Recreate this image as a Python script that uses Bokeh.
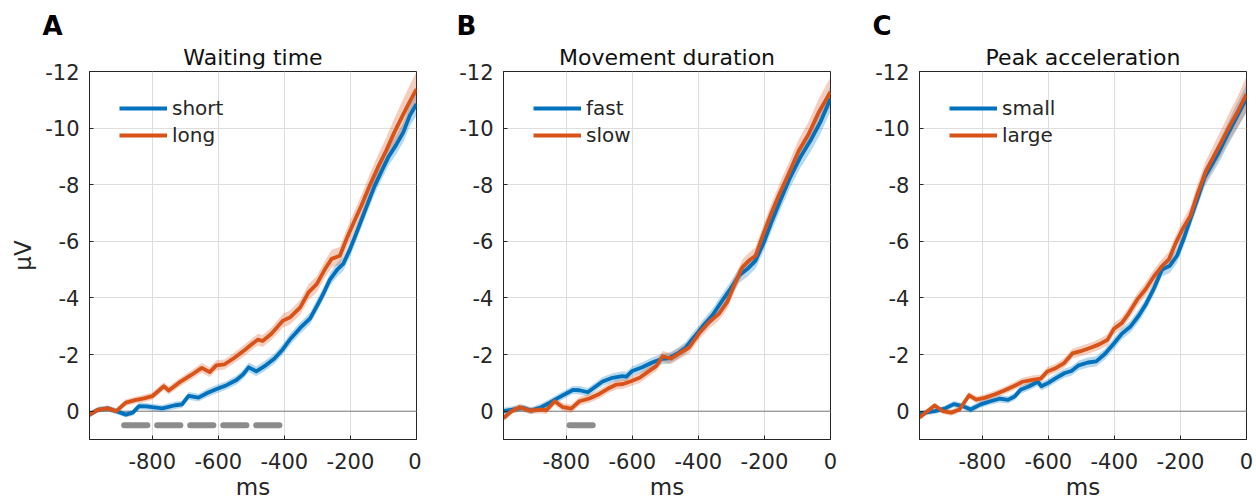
from bokeh.plotting import figure
from bokeh.layouts import row
from bokeh.models import Range1d, FixedTicker, Span, Title
from bokeh.embed import file_html
from bokeh.resources import INLINE

# ---------------- data ----------------
x_ticks = [-800, -600, -400, -200, 0]
x_tick_labels = ["-800", "-600", "-400", "-200", "0"]
y_ticks = [-12, -10, -8, -6, -4, -2, 0]
y_tick_labels = ["-12", "-10", "-8", "-6", "-4", "-2", "0"]

# Panel A: Waiting time
tA_short = [-990, -965, -935, -909, -880, -859, -840, -818, -800, -770,
            -730, -710, -690, -660, -632, -605, -575, -545, -525, -508,
            -485, -460, -430, -405, -382, -352, -322, -300, -280, -262,
            -240, -222, -202, -177, -152, -127, -105, -84, -62, -40,
            -20, 0]
vA_short = [0.12, -0.05, -0.10, 0.0, 0.12, 0.05, -0.18, -0.17, -0.14, -0.10,
            -0.21, -0.24, -0.54, -0.48, -0.65, -0.78, -0.92, -1.10, -1.30, -1.55,
            -1.41, -1.59, -1.86, -2.18, -2.55, -2.94, -3.28, -3.75, -4.20, -4.65,
            -5.00, -5.20, -5.70, -6.44, -7.20, -7.95, -8.50, -9.00, -9.40, -9.85,
            -10.45, -10.85]
sA_short = [0.10, 0.10, 0.10, 0.10, 0.10, 0.10, 0.12, 0.12, 0.12, 0.12,
            0.13, 0.13, 0.14, 0.14, 0.15, 0.15, 0.15, 0.16, 0.16, 0.17,
            0.17, 0.18, 0.18, 0.19, 0.20, 0.20, 0.21, 0.22, 0.22, 0.23,
            0.24, 0.25, 0.26, 0.27, 0.28, 0.29, 0.30, 0.31, 0.33, 0.35,
            0.38, 0.40]
tA_long = [-990, -965, -935, -909, -880, -852, -825, -800, -765, -750,
           -720, -682, -650, -626, -606, -582, -552, -520, -495, -480,
           -466, -440, -404, -382, -352, -327, -302, -277, -257, -232,
           -212, -192, -167, -142, -117, -92, -67, -42, -22, 0]
vA_long = [0.12, -0.05, -0.10, 0.0, -0.30, -0.39, -0.45, -0.53, -0.88, -0.73,
           -1.00, -1.28, -1.53, -1.38, -1.62, -1.65, -1.88, -2.16, -2.40, -2.53,
           -2.48, -2.73, -3.20, -3.32, -3.67, -4.20, -4.49, -5.02, -5.38, -5.49,
           -6.08, -6.61, -7.26, -7.96, -8.61, -9.20, -9.85, -10.44, -10.90, -11.38]
sA_long = [0.10, 0.10, 0.10, 0.10, 0.12, 0.12, 0.13, 0.13, 0.14, 0.14,
           0.15, 0.16, 0.17, 0.17, 0.18, 0.18, 0.19, 0.20, 0.20, 0.21,
           0.21, 0.22, 0.24, 0.25, 0.26, 0.28, 0.29, 0.30, 0.31, 0.32,
           0.34, 0.36, 0.38, 0.40, 0.43, 0.46, 0.50, 0.54, 0.58, 0.62]
sigA_start = [-885, -785, -685, -585, -485]
sigA_end = [-815, -715, -615, -515, -415]

# Panel B: Movement duration
tB_fast = [-990, -962, -932, -906, -876, -850, -815, -780, -760, -735,
           -710, -690, -660, -630, -618, -600, -570, -540, -510, -490,
           -460, -438, -418, -400, -388, -358, -328, -303, -277, -252,
           -227, -202, -177, -152, -122, -92, -61, -31, 0]
vB_fast = [0.0, -0.06, -0.12, -0.02, -0.14, -0.30, -0.53, -0.75, -0.74, -0.67,
           -0.88, -1.05, -1.18, -1.24, -1.22, -1.42, -1.55, -1.72, -1.85, -1.87,
           -2.06, -2.25, -2.55, -2.80, -2.98, -3.38, -3.90, -4.32, -4.79, -5.02,
           -5.32, -5.96, -6.73, -7.44, -8.26, -8.96, -9.55, -10.20, -11.05]
sB_fast = [0.12, 0.12, 0.12, 0.12, 0.13, 0.13, 0.14, 0.14, 0.15, 0.15,
           0.15, 0.16, 0.16, 0.17, 0.17, 0.17, 0.18, 0.18, 0.19, 0.19,
           0.20, 0.20, 0.21, 0.21, 0.22, 0.23, 0.24, 0.25, 0.26, 0.27,
           0.28, 0.30, 0.32, 0.34, 0.36, 0.38, 0.40, 0.42, 0.45]
tB_slow = [-990, -966, -941, -911, -876, -861, -835, -810, -785, -760,
           -730, -700, -673, -648, -628, -604, -578, -553, -528, -508,
           -483, -458, -428, -398, -368, -338, -313, -292, -267, -247,
           -227, -207, -182, -157, -127, -96, -66, -36, 0]
vB_slow = [0.24, 0.0, -0.14, -0.02, -0.06, -0.03, -0.35, -0.14, -0.09, -0.35,
           -0.45, -0.61, -0.80, -0.94, -0.96, -1.06, -1.18, -1.39, -1.59, -1.94,
           -1.86, -2.04, -2.25, -2.75, -3.14, -3.44, -3.85, -4.44, -5.08, -5.32,
           -5.49, -6.14, -6.91, -7.61, -8.38, -9.20, -9.79, -10.55, -11.28]
sB_slow = [0.12, 0.12, 0.12, 0.12, 0.13, 0.13, 0.14, 0.14, 0.15, 0.15,
           0.15, 0.16, 0.16, 0.17, 0.17, 0.17, 0.18, 0.18, 0.19, 0.19,
           0.20, 0.20, 0.21, 0.22, 0.23, 0.24, 0.25, 0.26, 0.27, 0.28,
           0.30, 0.32, 0.34, 0.36, 0.38, 0.41, 0.44, 0.48, 0.52]
sigB_start = [-790]
sigB_end = [-720]

# Panel C: Peak acceleration
tC_small = [-990, -968, -944, -914, -886, -860, -835, -805, -775, -748,
            -722, -702, -684, -658, -632, -621, -600, -576, -550, -530,
            -508, -480, -455, -429, -402, -377, -352, -326, -306, -281,
            -256, -232, -210, -190, -172, -150, -127, -105, -84, -59,
            -33, 0]
vC_small = [0.10, 0.04, 0.0, -0.09, -0.25, -0.18, -0.06, -0.24, -0.35, -0.44,
            -0.40, -0.52, -0.76, -0.88, -1.04, -0.88, -1.00, -1.18, -1.35, -1.42,
            -1.62, -1.72, -1.76, -2.02, -2.38, -2.74, -2.98, -3.38, -3.75, -4.32,
            -5.00, -5.14, -5.50, -6.10, -6.71, -7.45, -8.25, -8.70, -9.14, -9.73,
            -10.32, -11.05]
sC_small = [0.10, 0.10, 0.10, 0.10, 0.11, 0.11, 0.12, 0.12, 0.12, 0.13,
            0.13, 0.13, 0.14, 0.14, 0.15, 0.15, 0.15, 0.16, 0.16, 0.17,
            0.17, 0.18, 0.18, 0.19, 0.20, 0.20, 0.21, 0.22, 0.22, 0.23,
            0.24, 0.25, 0.26, 0.27, 0.28, 0.30, 0.32, 0.34, 0.37, 0.40,
            0.44, 0.50]
tC_large = [-990, -968, -944, -919, -894, -869, -840, -818, -793, -763,
            -735, -705, -678, -652, -623, -603, -578, -552, -527, -502,
            -472, -446, -421, -402, -377, -357, -331, -306, -281, -256,
            -235, -215, -195, -170, -149, -124, -99, -74, -48, -28,
            0]
vC_large = [0.22, 0.02, -0.20, 0.0, 0.05, -0.06, -0.56, -0.41, -0.47, -0.59,
            -0.72, -0.88, -1.04, -1.10, -1.15, -1.40, -1.52, -1.70, -2.04, -2.12,
            -2.24, -2.36, -2.52, -2.90, -3.12, -3.45, -3.94, -4.30, -4.75, -5.12,
            -5.36, -5.92, -6.40, -6.90, -7.65, -8.45, -9.00, -9.55, -10.14, -10.55,
            -11.20]
sC_large = [0.10, 0.10, 0.10, 0.10, 0.11, 0.11, 0.12, 0.12, 0.12, 0.13,
            0.13, 0.14, 0.14, 0.15, 0.15, 0.16, 0.16, 0.17, 0.17, 0.18,
            0.18, 0.19, 0.20, 0.20, 0.21, 0.22, 0.23, 0.24, 0.25, 0.26,
            0.27, 0.28, 0.30, 0.32, 0.35, 0.38, 0.42, 0.46, 0.50, 0.55,
            0.62]
sigC_start = []
sigC_end = []
sig_level = 0.5

# ---------------- styling ----------------
BLUE = "#0072BD"
ORANGE = "#D95319"
FONT = "DejaVu Sans"
AXC = "#262626"
FRAME_H = 368


def make_panel(letter, title, s1, s2, sig, ylabel, width, bl, br):
    p = figure(width=width, height=502, x_range=Range1d(-990, 0), y_range=Range1d(1, -12),
               output_backend="svg", toolbar_location=None,
               min_border_left=bl, min_border_right=br, min_border_top=71, min_border_bottom=63)
    # outer title: panel letter
    p.title.text = letter
    p.title.align = "left"
    p.title.offset = -47
    p.title.text_font = FONT
    p.title.text_font_size = "26px"
    p.title.text_font_style = "bold"
    p.title.text_color = "black"
    p.title.standoff = 0
    p.title.text_line_height = 0.75
    # inner title: panel name
    p.add_layout(Title(text=title, align="center", text_font=FONT, text_font_size="22px",
                       text_font_style="normal", text_color="#111111", standoff=4), "above")

    p.outline_line_color = AXC
    p.outline_line_width = 1
    p.background_fill_color = "white"

    p.xaxis.ticker = FixedTicker(ticks=x_ticks)
    p.yaxis.ticker = FixedTicker(ticks=y_ticks)
    p.xaxis.major_label_overrides = dict(zip(x_ticks, x_tick_labels))
    p.yaxis.major_label_overrides = dict(zip(y_ticks, y_tick_labels))
    p.xgrid.ticker = FixedTicker(ticks=x_ticks)
    p.ygrid.ticker = FixedTicker(ticks=y_ticks)
    p.grid.grid_line_color = "#DEDEDE"
    p.grid.grid_line_width = 1

    for ax in (p.xaxis, p.yaxis):
        ax.axis_line_color = AXC
        ax.major_tick_line_color = AXC
        ax.major_tick_in = 4
        ax.major_tick_out = 0
        ax.minor_tick_line_color = None
        ax.major_label_text_font = FONT
        ax.major_label_text_font_size = "21px"
        ax.major_label_text_color = AXC
        ax.axis_label_text_font = FONT
        ax.axis_label_text_font_style = "normal"
        ax.axis_label_text_color = AXC
    p.xaxis.major_label_standoff = 13
    p.yaxis.major_label_standoff = 10
    p.xaxis.axis_label = "ms"
    p.xaxis.axis_label_text_font_size = "23px"
    p.xaxis.axis_label_standoff = 2
    p.xaxis.axis_label_text_line_height = 0.7
    if ylabel:
        p.yaxis.axis_label = ylabel
        p.yaxis.axis_label_text_font_size = "23px"
        p.yaxis.axis_label_standoff = 6

    p.add_layout(Span(location=0, dimension="width", line_color="#7F7F7F",
                      line_width=1, level="underlay"))

    (t1, v1, e1, lab1), (t2, v2, e2, lab2) = s1, s2
    lo1 = [v - e for v, e in zip(v1, e1)]
    hi1 = [v + e for v, e in zip(v1, e1)]
    lo2 = [v - e for v, e in zip(v2, e2)]
    hi2 = [v + e for v, e in zip(v2, e2)]
    p.varea(x=t1, y1=lo1, y2=hi1, fill_color=BLUE, fill_alpha=0.28)
    p.varea(x=t2, y1=lo2, y2=hi2, fill_color=ORANGE, fill_alpha=0.28)
    p.line(t1, v1, line_color=BLUE, line_width=3.8, legend_label=lab1, line_join="round")
    p.line(t2, v2, line_color=ORANGE, line_width=3.8, legend_label=lab2, line_join="round")

    ss, se = sig
    if ss:
        p.segment(x0=ss, y0=[sig_level] * len(ss), x1=se, y1=[sig_level] * len(ss),
                  line_color="#8C8C8C", line_width=6, line_cap="round")

    p.legend.location = (26, FRAME_H - 80)
    p.legend.margin = 0
    p.legend.padding = 4
    p.legend.glyph_width = 48
    p.legend.glyph_height = 24
    p.legend.label_height = 24
    p.legend.spacing = 3
    p.legend.label_standoff = 5
    p.legend.label_text_font = FONT
    p.legend.label_text_font_size = "20px"
    p.legend.label_text_color = AXC
    p.legend.background_fill_alpha = 0
    p.legend.border_line_alpha = 0
    return p


pA = make_panel("A", "Waiting time",
                (tA_short, vA_short, sA_short, "short"), (tA_long, vA_long, sA_long, "long"),
                (sigA_start, sigA_end), "\u03bcV", 421, 89, 5)
pB = make_panel("B", "Movement duration",
                (tB_fast, vB_fast, sB_fast, "fast"), (tB_slow, vB_slow, sB_slow, "slow"),
                (sigB_start, sigB_end), None, 416, 82, 7)
pC = make_panel("C", "Peak acceleration",
                (tC_small, vC_small, sC_small, "small"), (tC_large, vC_large, sC_large, "large"),
                (sigC_start, sigC_end), None, 419, 82, 10)

layout = row(pA, pB, pC)
open("out.html", "w").write(file_html(layout, INLINE))
